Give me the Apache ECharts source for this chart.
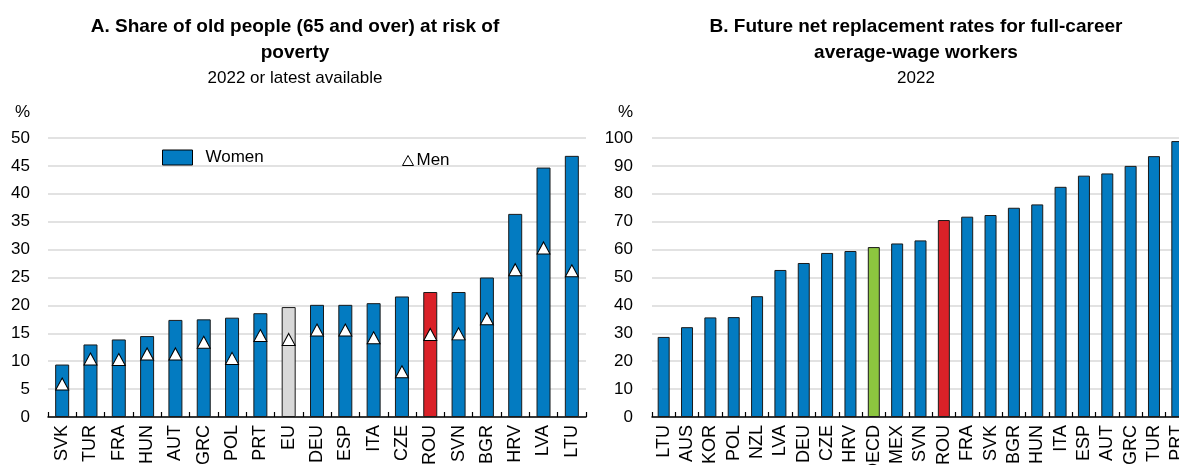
<!DOCTYPE html>
<html>
<head>
<meta charset="utf-8">
<script src="https://cdn.jsdelivr.net/npm/echarts@6/dist/echarts.min.js"></script>
<style>
html,body{margin:0;padding:0;background:#fff;}
#chart{width:1179px;height:465px;}
</style>
</head>
<body>
<div id="chart"></div>
<script>
// Panel A data
const catsA = ['SVK','TUR','FRA','HUN','AUT','GRC','POL','PRT','EU','DEU','ESP','ITA','CZE','ROU','SVN','BGR','HRV','LVA','LTU'];
const womenA = [9.4, 13.0, 13.9, 14.5, 17.4, 17.5, 17.8, 18.6, 19.7, 20.1, 20.1, 20.4, 21.6, 22.4, 22.4, 25.0, 36.4, 44.7, 46.8];
const menA = [5.9, 10.4, 10.3, 11.3, 11.3, 13.4, 10.5, 14.6, 13.9, 15.6, 15.6, 14.2, 8.1, 14.8, 14.9, 17.6, 26.4, 30.3, 26.2];
const ticksA = [0, 5, 10, 15, 20, 25, 30, 35, 40, 45, 50];

// Panel B data
const catsB = ['LTU','AUS','KOR','POL','NZL','LVA','DEU','CZE','HRV','OECD','MEX','SVN','ROU','FRA','SVK','BGR','HUN','ITA','ESP','AUT','GRC','TUR','PRT'];
const valuesB = [28.7, 32.2, 35.7, 35.8, 43.3, 52.7, 55.2, 58.8, 59.5, 60.9, 62.2, 63.3, 70.6, 71.8, 72.4, 75.0, 76.2, 82.5, 86.5, 87.3, 90.0, 93.5, 98.9];
const ticksB = [0, 10, 20, 30, 40, 50, 60, 70, 80, 90, 100];

const FONT = 'Arial, "Liberation Sans", sans-serif';
const BLUE = '#037bc1', RED = '#da2128', GREEN = '#8cc63f', GREY = '#d9d9d9';
function barColor(name) {
  if (name === 'ROU') return RED;
  if (name === 'EU') return GREY;
  if (name === 'OECD') return GREEN;
  return BLUE;
}

function xAxisFor(cats, gridIndex) {
  return {
    type: 'category', gridIndex: gridIndex, data: cats,
    axisLine: {show: true, lineStyle: {color: '#000', width: 1.5}},
    axisTick: {show: true, inside: true, length: 5, lineStyle: {color: '#000', width: 1.2}},
    axisLabel: {interval: 0, rotate: 90, margin: 8, fontSize: 18, color: '#000', fontFamily: FONT, hideOverlap: false},
    splitLine: {show: false}
  };
}
function yAxisFor(ticks, gridIndex, padRight) {
  return {
    type: 'value', gridIndex: gridIndex,
    min: ticks[0], max: ticks[ticks.length - 1], interval: ticks[1] - ticks[0],
    name: '%', nameLocation: 'end', nameGap: 17,
    nameTextStyle: {fontSize: 17, color: '#000', fontFamily: FONT, align: 'right', padding: [0, padRight, 0, 0]},
    axisLine: {show: false}, axisTick: {show: false},
    axisLabel: {fontSize: 17, color: '#000', fontFamily: FONT, margin: padRight},
    splitLine: {show: true, lineStyle: {color: '#d9d9d9', width: 1.5}}
  };
}

const chart = echarts.init(document.getElementById('chart'), null, {renderer: 'canvas'});
chart.setOption({
  animation: false,
  backgroundColor: '#fff',
  textStyle: {fontFamily: FONT},
  title: [
    {
      text: 'A. Share of old people (65 and over) at risk of\npoverty',
      subtext: '2022 or latest available',
      left: 295, top: 14, textAlign: 'center', padding: 0, itemGap: 2,
      textStyle: {fontSize: 19, fontWeight: 'bold', color: '#000', lineHeight: 26, fontFamily: FONT},
      subtextStyle: {fontSize: 17, color: '#000', lineHeight: 20, fontFamily: FONT}
    },
    {
      text: 'B. Future net replacement rates for full-career\naverage-wage workers',
      subtext: '2022',
      left: 916, top: 14, textAlign: 'center', padding: 0, itemGap: 2,
      textStyle: {fontSize: 19, fontWeight: 'bold', color: '#000', lineHeight: 26, fontFamily: FONT},
      subtextStyle: {fontSize: 17, color: '#000', lineHeight: 20, fontFamily: FONT}
    }
  ],
  legend: [
    {
      left: 162, top: 149, orient: 'horizontal', selectedMode: false,
      itemWidth: 30, itemHeight: 15, padding: 0,
      data: [{name: 'Women', icon: 'rect', itemStyle: {color: BLUE, borderColor: '#000', borderWidth: 1}}],
      textStyle: {fontSize: 17, color: '#000', fontFamily: FONT, padding: [0, 0, 0, 8]}
    },
    {
      left: 402, top: 152, orient: 'horizontal', selectedMode: false,
      itemWidth: 11, itemHeight: 10, padding: 0,
      data: [{name: 'Men', icon: 'triangle', itemStyle: {color: '#fff', borderColor: '#000', borderWidth: 1}}],
      textStyle: {fontSize: 17, color: '#000', fontFamily: FONT, padding: [0, 0, 0, -2]}
    }
  ],
  grid: [
    {left: 48, right: 593, top: 138, bottom: 48, containLabel: false, outerBoundsMode: 'none'},
    {left: 652, right: -10, top: 138, bottom: 48, containLabel: false, outerBoundsMode: 'none'}
  ],
  xAxis: [xAxisFor(catsA, 0), xAxisFor(catsB, 1)],
  yAxis: [yAxisFor(ticksA, 0, 18), yAxisFor(ticksB, 1, 19)],
  series: [
    {
      name: 'Women', type: 'bar', xAxisIndex: 0, yAxisIndex: 0, data: womenA,
      barWidth: 14,
      itemStyle: {color: p => barColor(p.name), borderColor: '#1a1a1a', borderWidth: 1}
    },
    {
      name: 'Men', type: 'scatter', xAxisIndex: 0, yAxisIndex: 0, data: menA,
      symbol: 'triangle', symbolSize: [13, 12], z: 5,
      itemStyle: {color: '#fff', borderColor: '#000', borderWidth: 1, opacity: 1}
    },
    {
      name: 'Replacement rate', type: 'bar', xAxisIndex: 1, yAxisIndex: 1, data: valuesB,
      barWidth: 12,
      itemStyle: {color: p => barColor(p.name), borderColor: '#1a1a1a', borderWidth: 1}
    }
  ]
});
</script>
</body>
</html>
